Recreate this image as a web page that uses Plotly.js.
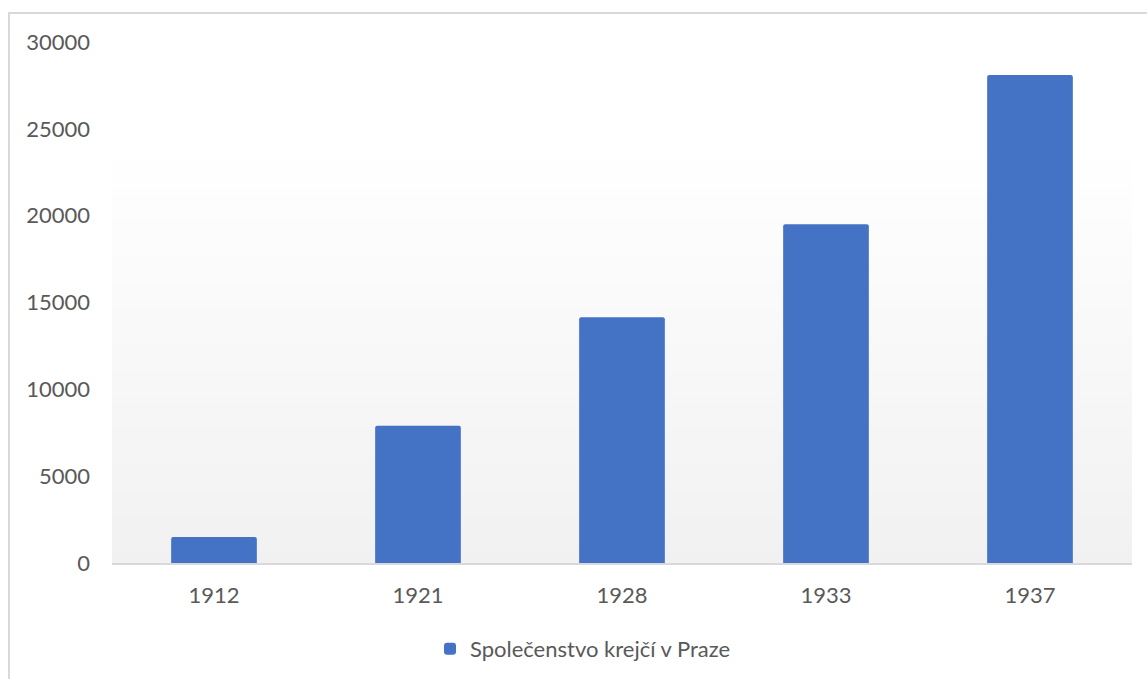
<!DOCTYPE html>
<html>
<head>
<meta charset="utf-8">
<script src="https://cdn.plot.ly/plotly-3.0.1.min.js"></script>
<style>
  html, body { margin: 0; padding: 0; background: #ffffff; overflow: hidden; }
  #chart { width: 1147px; height: 679px; }
</style>
</head>
<body>
<div id="chart"></div>
<script>
// Data
const years = ['1912', '1921', '1928', '1933', '1937'];
const members = [1500, 7900, 14150, 19500, 28100];
const seriesName = 'Společenstvo krejčí v Praze';
const yTicks = [0, 5000, 10000, 15000, 20000, 25000, 30000];

const W = 1147, H = 679;
const m = { l: 112, r: 15, t: 42, b: 116 };
const pw = W - m.l - m.r, ph = H - m.t - m.b;
const px = v => (v - m.l) / pw;
const py = v => (H - m.b - v) / ph;

// Vertical gradient for the plot area background (white -> light grey)
function gradientURL() {
  const c = document.createElement('canvas');
  c.width = pw; c.height = ph;
  const g = c.getContext('2d');
  const grd = g.createLinearGradient(0, 0, 0, ph);
  grd.addColorStop(0, '#ffffff');
  grd.addColorStop(0.2, '#ffffff');
  grd.addColorStop(1, '#f1f1f1');
  g.fillStyle = grd;
  g.fillRect(0, 0, pw, ph);
  return c.toDataURL('image/png');
}

const font = 'Lato, "Open Sans", sans-serif';
const txt = '#595959';
const fs = 22;

const trace = {
  type: 'bar',
  x: years,
  y: members,
  name: seriesName,
  marker: { color: '#4472c4', cornerradius: 2 },
  showlegend: true,
  hoverinfo: 'x+y'
};

const layout = {
  width: W, height: H,
  margin: m,
  paper_bgcolor: '#ffffff',
  plot_bgcolor: 'rgba(0,0,0,0)',
  bargap: 0.58,
  font: { family: font, size: fs, color: txt },
  xaxis: {
    type: 'category',
    automargin: false,
    showgrid: false,
    zeroline: false,
    showline: true,
    linecolor: '#d9d9d9',
    linewidth: 2,
    ticks: '',
    ticklabelstandoff: 12,
    tickfont: { family: font, size: fs, color: txt },
    fixedrange: true
  },
  yaxis: {
    range: [0, 30000],
    automargin: false,
    tickvals: yTicks,
    ticktext: yTicks.map(String),
    showgrid: false,
    zeroline: false,
    showline: false,
    ticks: '',
    ticklabelstandoff: 21,
    tickfont: { family: font, size: fs, color: txt },
    fixedrange: true
  },
  legend: {
    orientation: 'h',
    xref: 'container', yref: 'container',
    x: 430 / W, xanchor: 'left',
    y: 1 - 649 / H, yanchor: 'middle',
    font: { family: font, size: fs, color: txt },
    bgcolor: 'rgba(0,0,0,0)'
  },
  images: [{
    source: gradientURL(),
    xref: 'paper', yref: 'paper',
    x: 0, y: 1, sizex: 1, sizey: 1,
    xanchor: 'left', yanchor: 'top',
    sizing: 'stretch',
    layer: 'below'
  }],
  shapes: [{
    type: 'rect',
    xref: 'paper', yref: 'paper',
    x0: px(9), x1: px(1160),
    y0: py(690), y1: py(13),
    line: { color: '#d9d9d9', width: 2 },
    fillcolor: 'rgba(0,0,0,0)',
    layer: 'below'
  }]
};

Plotly.newPlot('chart', [trace], layout, { displayModeBar: false, staticPlot: true });
</script>
</body>
</html>
